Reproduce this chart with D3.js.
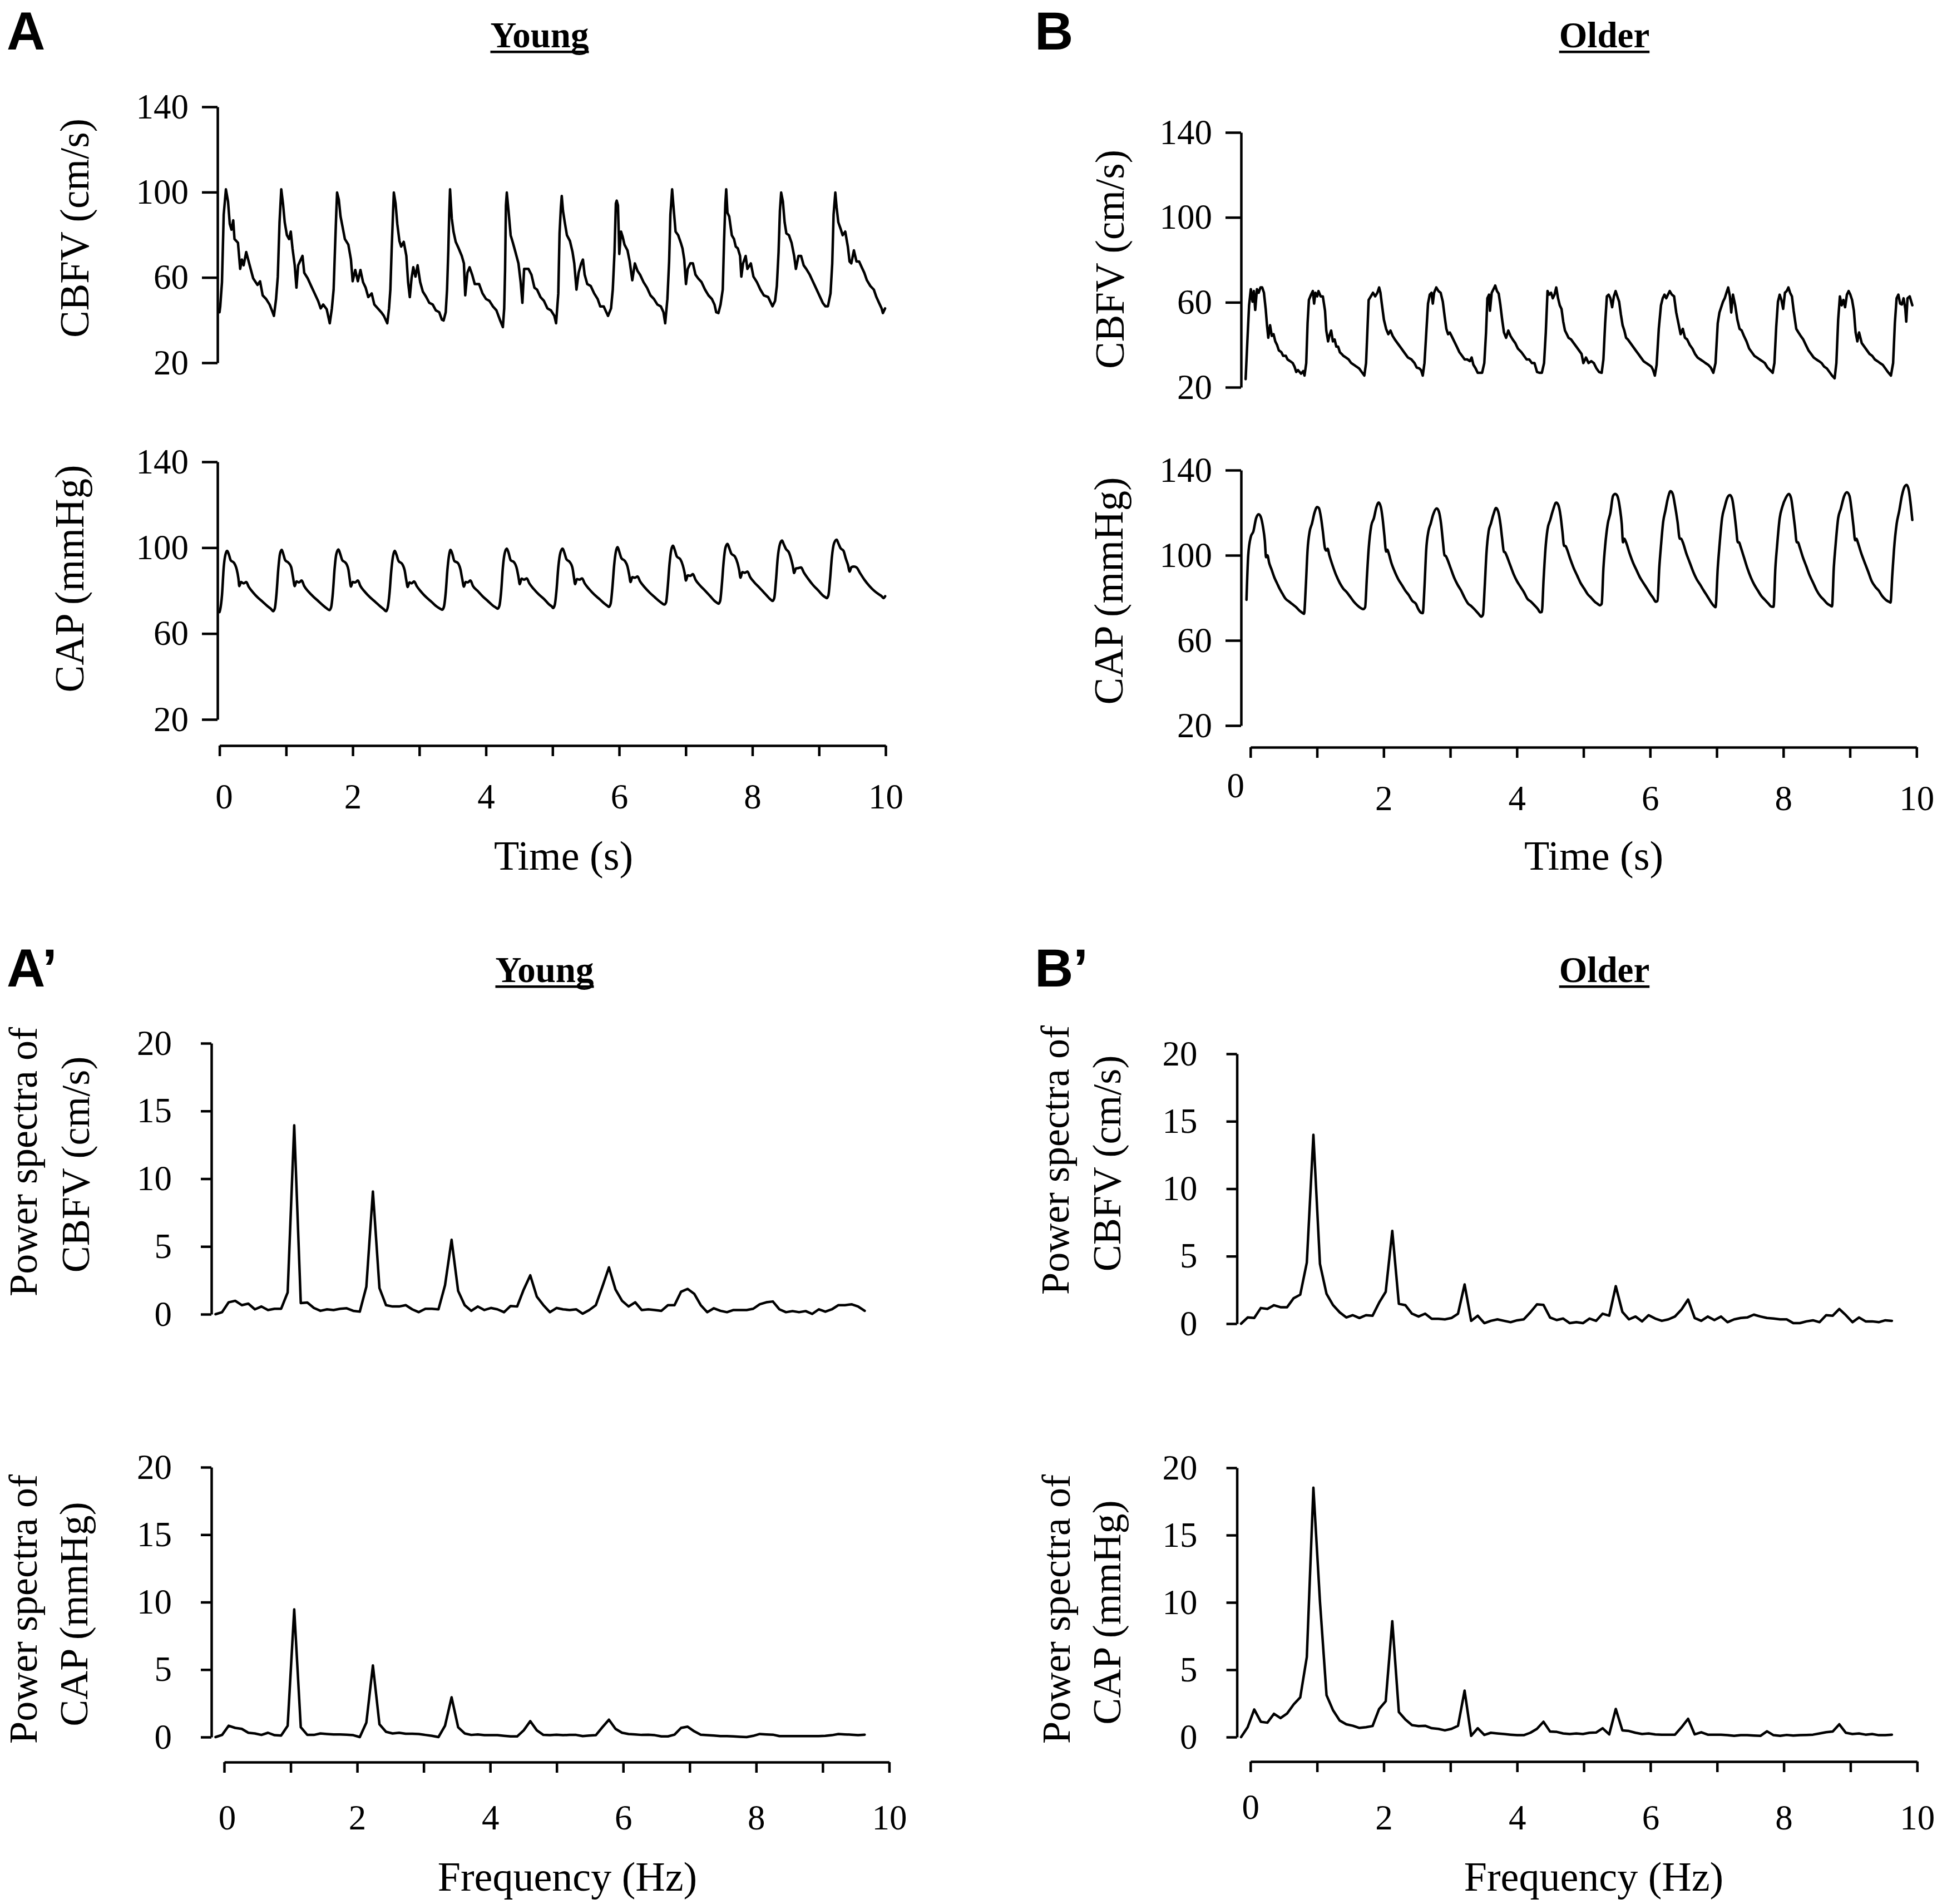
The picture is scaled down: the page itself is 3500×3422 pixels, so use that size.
<!DOCTYPE html>
<html><head><meta charset="utf-8">
<script src="https://cdn.jsdelivr.net/npm/d3@7"></script>
<style>html,body{margin:0;padding:0;background:#fff}svg{display:block}</style>
</head><body>
<svg id="c" width="3500" height="3422"></svg>
<script>
// ---------------- DATA ----------------
const timeXTicks = [0,1,2,3,4,5,6,7,8,9,10];
const timeXLabels = ["0","","2","","4","","6","","8","","10"];
const timeYTicks = [20,60,100,140];
const specYTicks = [0,5,10,15,20];
const freqXTicks = [0,1,2,3,4,5,6,7,8,9,10];
const freqXLabels = ["0","","2","","4","","6","","8","","10"];

const panelLetters = ["A","B","A\u2019","B\u2019"];
const groupTitles = ["Young","Older"];
const timeTitle = "Time (s)";
const freqTitle = "Frequency (Hz)";
const cbfvTitle = "CBFV (cm/s)";
const capTitle = "CAP (mmHg)";
const specTitle1 = "Power spectra of";

// Young CBFV (time s, cm/s)
const youngCBFV = [[0,43.7],[0.011,46.4],[0.037,57.8],[0.063,89.5],[0.096,101.3],[0.128,95.6],[0.154,85.1],[0.18,82.4],[0.206,86.8],[0.225,78],[0.277,76.3],[0.31,64],[0.336,68.4],[0.362,65.7],[0.401,71.9],[0.453,65.7],[0.505,59.6],[0.57,56.5],[0.609,58.2],[0.648,51.6],[0.7,49.9],[0.752,47.3],[0.791,44.2],[0.817,42],
[0.849,49.9],[0.875,60.4],[0.901,85.9],[0.927,101.3],[0.953,94.7],[0.979,85.9],[1.012,79.8],[1.044,78],[1.07,81.5],[1.096,73.6],[1.129,65.7],[1.155,55.2],[1.181,65.7],[1.22,68.4],[1.246,70.1],[1.272,62.2],[1.324,59.6],[1.376,56],[1.428,52.5],[1.48,49],[1.519,45.5],[1.557,47.3],[1.609,45.1],[1.655,38.5],
[1.687,45.5],[1.713,54.3],[1.733,72.7],[1.752,89.5],[1.765,99.8],[1.791,96.5],[1.817,88.6],[1.85,83.3],[1.882,78],[1.934,75.4],[1.973,68.4],[1.999,58.2],[2.038,63.5],[2.077,58.2],[2.116,63.5],[2.155,57.8],[2.194,55.2],[2.233,50.8],[2.285,52.5],[2.324,47.3],[2.376,45.5],[2.428,43.7],[2.467,42],[2.519,38.5],
[2.545,45.5],[2.565,54.3],[2.584,72.7],[2.604,89.5],[2.617,99.8],[2.643,94.7],[2.669,85.1],[2.701,77.1],[2.727,74.5],[2.766,76.7],[2.805,70.1],[2.831,57.8],[2.857,50.8],[2.883,59.6],[2.909,64.8],[2.942,60.4],[2.974,65.7],[3.013,57.8],[3.052,53.4],[3.104,50.8],[3.149,48.1],[3.201,47.3],[3.247,44.6],[3.299,43.7],[3.338,40.2],[3.364,39.8],
[3.396,43.7],[3.416,54.3],[3.435,72.7],[3.448,89.5],[3.461,101.3],[3.487,87.7],[3.513,81.5],[3.546,76.7],[3.591,73.6],[3.637,70.1],[3.669,66.6],[3.689,51.6],[3.721,62.2],[3.754,64.8],[3.793,61.3],[3.832,56.9],[3.897,56.9],[3.949,52.5],[4.001,49.9],[4.053,49],[4.105,46.4],[4.157,44.6],[4.209,40.2],[4.254,36.7],
[4.274,45.5],[4.287,63.1],[4.3,93.8],[4.313,99.8],[4.339,91.2],[4.371,79.8],[4.404,76.3],[4.443,71.9],[4.488,66.6],[4.521,57.8],[4.547,48.1],[4.573,64],[4.638,64],[4.683,61.3],[4.728,55.2],[4.767,54.3],[4.819,50.8],[4.871,49],[4.923,45.5],[4.975,44.6],[5.027,42],[5.053,38.5],
[5.086,52.5],[5.105,80.7],[5.125,93],[5.138,98.2],[5.157,91.2],[5.183,85.9],[5.216,79.8],[5.261,77.1],[5.3,71.9],[5.326,66.6],[5.359,54.3],[5.391,62.2],[5.43,66.6],[5.456,68.4],[5.482,61.3],[5.521,56.9],[5.573,56],[5.625,52.5],[5.677,49.9],[5.716,46.4],[5.768,46.4],[5.807,43.7],[5.833,42],
[5.878,45.5],[5.904,54.3],[5.93,71.9],[5.95,94.7],[5.963,96],[5.982,93.8],[6.002,71],[6.028,81.5],[6.054,78.9],[6.08,75.4],[6.125,72.7],[6.158,67.5],[6.197,58.7],[6.236,66.6],[6.275,63.1],[6.314,61.3],[6.366,57.8],[6.418,55.2],[6.47,51.6],[6.522,49.9],[6.574,47.3],[6.626,46.4],[6.665,43.7],[6.691,38.5],
[6.724,49.9],[6.75,67.5],[6.769,89.5],[6.795,101.3],[6.821,91.2],[6.847,81.5],[6.886,79.8],[6.925,76.3],[6.951,73.6],[6.977,68.4],[7.003,56.9],[7.029,64],[7.068,66.6],[7.107,66.6],[7.146,61.3],[7.185,59.6],[7.237,57.8],[7.289,54.3],[7.341,51.6],[7.392,49.9],[7.431,47.3],[7.457,43.7],[7.49,43.3],
[7.522,47.3],[7.555,54.3],[7.574,76.3],[7.594,94.7],[7.607,101.3],[7.626,90.3],[7.652,88.6],[7.691,79.8],[7.724,78],[7.75,74.5],[7.782,73.6],[7.815,70.1],[7.834,60.4],[7.86,66.6],[7.899,70.1],[7.925,64],[7.977,66.6],[8.016,60.4],[8.068,57.8],[8.12,54.3],[8.172,51.6],[8.237,50.8],[8.302,46.5],
[8.341,49],[8.367,56],[8.393,71.9],[8.413,91.2],[8.432,99.8],[8.458,95.6],[8.484,85.9],[8.51,80.7],[8.549,79.8],[8.588,76.3],[8.627,70.1],[8.653,64],[8.692,70.1],[8.731,70.1],[8.77,65.7],[8.809,64],[8.861,61.3],[8.913,57.8],[8.965,54.3],[9.017,50.8],[9.056,48.1],[9.095,46.5],[9.134,46.5],
[9.173,52.5],[9.199,66.6],[9.219,89.5],[9.245,99.8],[9.264,93],[9.29,85.9],[9.329,82.4],[9.355,79.8],[9.394,81.5],[9.433,74.5],[9.459,67.5],[9.485,66.6],[9.524,72.7],[9.563,67.5],[9.602,67.5],[9.641,64.8],[9.68,62.2],[9.719,58.7],[9.771,56],[9.823,54.3],[9.862,50.8],[9.901,48.1],[9.94,45.5],[9.959,43.3],[9.992,45.5]];

// Young CAP (time s, mmHg)
const youngCAP = [[0,70],[0.011,71.3],[0.037,77.8],[0.063,90.8],[0.089,96.8],[0.115,98.5],[0.141,96.8],[0.167,94.2],[0.219,92.9],[0.258,89.9],[0.284,85.6],[0.297,82.1],[0.323,84],[0.362,83.4],[0.401,84],[0.44,81.7],[0.505,79.1],[0.57,76.9],[0.648,74.8],[0.726,72.6],[0.778,71.3],[0.804,70.4],
[0.83,71.7],[0.856,78.7],[0.882,89.9],[0.908,97.2],[0.934,99],[0.96,96.8],[0.986,94.2],[1.038,92.9],[1.077,90.8],[1.103,86.4],[1.129,82.1],[1.155,84.3],[1.194,83.8],[1.233,84.7],[1.272,82.1],[1.337,79.5],[1.402,77.4],[1.48,75.2],[1.558,73],[1.61,71.7],[1.649,70.9],
[1.675,72.2],[1.701,78.7],[1.727,89.9],[1.752,96.8],[1.785,99.2],[1.811,97.2],[1.843,94.2],[1.895,92.9],[1.934,89.9],[1.954,85.6],[1.973,81.9],[1.999,84],[2.038,83.8],[2.077,84.7],[2.116,82.1],[2.181,79.5],[2.259,76.9],[2.337,74.8],[2.415,72.6],[2.467,71.3],[2.5,70.4],
[2.526,72.2],[2.552,78.7],[2.578,89],[2.604,95.9],[2.63,98.5],[2.656,96.8],[2.688,93.8],[2.74,92.5],[2.779,89.5],[2.805,84.7],[2.825,81.7],[2.851,83.8],[2.883,83.4],[2.922,84.3],[2.961,82.1],[3.026,79.5],[3.104,76.9],[3.182,74.8],[3.26,72.6],[3.312,71.6],[3.344,71.1],
[3.37,72.6],[3.396,79.1],[3.422,89.9],[3.448,96.8],[3.468,99],[3.494,97.2],[3.526,93.8],[3.578,92.9],[3.617,89.9],[3.643,85.6],[3.669,81.9],[3.695,84],[3.728,83.8],[3.767,84.7],[3.806,82.1],[3.871,80],[3.949,77.4],[4.027,75.2],[4.105,73],[4.144,72.2],[4.176,71.6],
[4.202,73],[4.228,79.5],[4.254,90.8],[4.28,97.2],[4.313,99.6],[4.339,97.7],[4.371,94.2],[4.423,93.2],[4.462,90.4],[4.488,86.4],[4.508,83],[4.534,85.6],[4.573,85.1],[4.612,85.7],[4.651,83.4],[4.716,80.8],[4.794,78.2],[4.872,76.1],[4.95,73.5],[4.989,72.6],[5.008,71.9],
[5.034,73.5],[5.06,80.4],[5.086,90.8],[5.118,97.7],[5.151,99.6],[5.177,97.7],[5.209,94.6],[5.261,93.2],[5.3,90.4],[5.32,86.4],[5.339,83],[5.365,85.4],[5.404,85.1],[5.443,85.7],[5.482,83.4],[5.547,80.8],[5.625,78.2],[5.703,76.1],[5.781,73.9],[5.82,73],[5.846,72.4],
[5.872,73.9],[5.898,81.3],[5.924,91.6],[5.95,98.1],[5.976,100.3],[6.002,98.1],[6.034,95.1],[6.086,93.8],[6.125,91.2],[6.151,87.3],[6.171,84],[6.197,86.3],[6.236,86],[6.275,86.6],[6.314,84.3],[6.379,81.7],[6.457,79.1],[6.535,76.9],[6.613,74.8],[6.652,73.9],[6.678,73.5],
[6.704,74.5],[6.73,82.1],[6.756,92.5],[6.782,99],[6.808,100.9],[6.834,99],[6.866,95.9],[6.918,94.6],[6.957,91.6],[6.983,88.2],[7.003,84.7],[7.029,87.1],[7.068,86.9],[7.107,87.7],[7.146,85.1],[7.211,82.5],[7.289,80],[7.367,77.4],[7.431,75.2],[7.47,74.3],[7.49,73.9],
[7.516,75.2],[7.542,83],[7.568,93.3],[7.594,99.8],[7.627,101.8],[7.653,99.8],[7.685,97.2],[7.737,95.9],[7.776,92.9],[7.802,89.5],[7.822,86],[7.848,88.6],[7.887,88.3],[7.926,88.9],[7.965,86.4],[8.03,83.8],[8.108,81.3],[8.186,78.7],[8.251,76.5],[8.283,75.6],[8.302,75.2],
[8.328,76.5],[8.354,84.7],[8.38,95.1],[8.413,101.6],[8.445,103.3],[8.471,101.6],[8.504,99.4],[8.549,97.7],[8.582,94.6],[8.608,91.2],[8.627,88.2],[8.653,90.3],[8.692,90.5],[8.731,90.8],[8.77,88.6],[8.835,85.6],[8.913,82.5],[8.991,80],[9.056,77.8],[9.095,76.9],[9.115,76.5],
[9.141,77.8],[9.167,85.6],[9.193,95.5],[9.226,102],[9.265,103.7],[9.291,102],[9.323,99.8],[9.369,98.5],[9.401,95.1],[9.434,92.1],[9.46,88.9],[9.486,90.9],[9.525,91.2],[9.564,90.8],[9.616,88.2],[9.681,85.1],[9.759,82.1],[9.837,79.7],[9.902,78.2],[9.941,77.4],[9.967,76.5],[9.993,77.4]];

// Older CBFV (time s, cm/s)
const olderCBFV = [[-0.072,23.8],[-0.046,41.6],[-0.02,58.6],[0.006,66.2],[0.032,60.3],[0.052,65.3],[0.072,56.4],[0.098,66.2],[0.124,64.5],[0.151,67],[0.177,67],[0.203,64.5],[0.229,56.9],[0.249,49.2],[0.268,43.3],[0.295,49.2],[0.321,44.2],[0.347,45],[0.373,41.6],[0.4,39.9],[0.426,37.4],[0.465,36.5],[0.491,34.8],[0.531,34.8],[0.557,33.1],[0.596,32.3],[0.635,31.4],[0.662,29.7],[0.688,27.2],[0.714,28.1],[0.76,26.4],[0.793,27.6],[0.812,25.5],
[0.838,31.4],[0.858,50.1],[0.878,61.1],[0.91,63.6],[0.937,65.3],[0.956,59.4],[0.976,64.5],[1.002,62.8],[1.022,65.3],[1.054,62.8],[1.087,62.8],[1.12,56],[1.139,46.7],[1.166,41.6],[1.185,44.2],[1.212,46.7],[1.238,41.6],[1.264,42.5],[1.29,39.1],[1.317,39.1],[1.343,36.5],[1.369,35.7],[1.395,34.8],[1.435,34],[1.474,33.1],[1.513,31.4],[1.552,30.6],[1.592,29.7],[1.631,28.9],[1.67,27.2],[1.71,25.5],
[1.736,31.4],[1.755,45.8],[1.775,61.1],[1.808,62.8],[1.84,64.5],[1.873,62.8],[1.906,64.5],[1.932,67],[1.952,64.5],[1.972,59.4],[2.004,51.8],[2.037,47.5],[2.07,45],[2.103,46.7],[2.135,44.2],[2.168,42.5],[2.207,40.8],[2.247,39.1],[2.286,37.4],[2.325,35.7],[2.365,34],[2.417,33.1],[2.463,31.4],[2.496,29.3],[2.535,28.9],[2.561,28.1],[2.587,25.5],
[2.613,31.4],[2.64,45.8],[2.666,59.4],[2.692,63.6],[2.718,64.5],[2.738,59.4],[2.757,64.5],[2.79,67],[2.823,65.3],[2.856,64.5],[2.888,60.3],[2.915,53.5],[2.941,47.5],[2.967,45],[2.993,45.8],[3.019,44.2],[3.059,41.6],[3.098,39.1],[3.137,36.5],[3.177,34.8],[3.216,33.1],[3.255,33.1],[3.294,32.3],[3.321,34],[3.347,30.6],[3.38,28.9],[3.412,26.8],[3.478,26.8],
[3.511,31.4],[3.537,45.8],[3.557,61.9],[3.583,63.6],[3.596,56],[3.622,64.5],[3.649,66.2],[3.675,67.9],[3.701,65.3],[3.727,64.1],[3.753,58.6],[3.779,51.8],[3.806,45.8],[3.838,43.3],[3.871,46.7],[3.904,44.2],[3.937,42.5],[3.976,40.8],[4.015,38.2],[4.068,36.5],[4.107,34.8],[4.146,33.1],[4.186,33.1],[4.225,31.4],[4.264,31.4],[4.303,27.2],[4.343,26.8],[4.375,26.8],
[4.408,31.4],[4.434,45.8],[4.46,65.3],[4.487,63.6],[4.513,64.5],[4.539,61.9],[4.565,63.6],[4.591,67],[4.618,61.9],[4.644,58.6],[4.67,56.9],[4.696,50.9],[4.722,46.7],[4.749,45],[4.775,43.3],[4.814,42.5],[4.853,40.8],[4.893,39.1],[4.932,37.4],[4.971,35.7],[4.998,31.4],[5.037,34],[5.076,31.4],[5.116,32.3],[5.155,31.4],[5.194,28.9],[5.233,27.2],[5.273,26.8],
[5.299,33.1],[5.325,50.1],[5.351,62.8],[5.377,63.6],[5.404,61.9],[5.43,57.7],[5.456,62.8],[5.482,65.3],[5.508,62.8],[5.535,60.3],[5.561,54.3],[5.587,49.2],[5.613,46.7],[5.639,43.3],[5.666,42.5],[5.705,40.8],[5.744,39.1],[5.783,37.4],[5.823,35.7],[5.862,34],[5.901,32.3],[5.941,31.4],[5.98,30.6],[6.019,29.7],[6.045,28.1],[6.071,25.5],
[6.098,30.6],[6.13,47.5],[6.163,58.6],[6.189,61.9],[6.216,63.6],[6.242,61.9],[6.268,63.6],[6.294,65.3],[6.327,63.6],[6.36,62.8],[6.392,55.2],[6.425,50.1],[6.458,45],[6.491,47.5],[6.523,43.3],[6.556,42.5],[6.596,39.9],[6.635,38.2],[6.674,35.7],[6.713,34],[6.753,33.1],[6.792,32.3],[6.831,31.4],[6.871,30.6],[6.91,29.3],[6.949,26.8],
[6.982,31.4],[7.015,50.1],[7.041,55.2],[7.067,57.7],[7.094,60.3],[7.12,61.9],[7.146,64.5],[7.172,67],[7.198,62.8],[7.218,55.2],[7.244,63.6],[7.277,58.6],[7.31,51.8],[7.343,47.5],[7.375,46.7],[7.408,44.2],[7.447,41.6],[7.487,38.2],[7.526,36.5],[7.565,34.8],[7.604,34],[7.644,33.1],[7.683,32.3],[7.722,31.4],[7.762,29.3],[7.801,28.1],[7.84,26.8],
[7.866,31.4],[7.893,48.4],[7.919,60.3],[7.945,63.6],[7.971,61.1],[7.997,56.9],[8.024,64.5],[8.05,65.3],[8.076,67],[8.102,64.5],[8.129,62.8],[8.155,56],[8.194,47.5],[8.227,45.8],[8.26,44.2],[8.299,42.5],[8.338,39.9],[8.377,37.4],[8.417,35.7],[8.456,34],[8.495,33.1],[8.535,32.3],[8.574,31.4],[8.613,29.7],[8.652,28.9],[8.692,27.2],[8.731,25.5],[8.77,24.2],
[8.796,31.4],[8.823,51.8],[8.849,62.8],[8.875,58.6],[8.901,61.1],[8.927,57.7],[8.954,63.6],[8.98,65.3],[9.006,63.6],[9.032,61.1],[9.059,56],[9.085,45.8],[9.111,41.6],[9.137,45.8],[9.177,40.8],[9.216,39.1],[9.255,37.4],[9.294,35.7],[9.334,34.8],[9.373,33.1],[9.412,32.3],[9.451,31.4],[9.491,30.6],[9.53,28.9],[9.569,27.2],[9.615,25.5],
[9.648,31.4],[9.674,50.1],[9.7,61.9],[9.727,63.6],[9.753,59.4],[9.779,59],[9.805,61.9],[9.831,56.9],[9.845,50.9],[9.864,61.9],[9.897,62.8],[9.936,58.6]];

// Older CAP (time s, mmHg)
const olderCAP = [[-0.059,79.1],[-0.033,100],[0.006,108.7],[0.045,111.3],[0.085,117.4],[0.124,119.3],[0.157,117.9],[0.19,113.1],[0.216,107],[0.235,99.1],[0.255,100],[0.281,96.5],[0.321,93],[0.36,89.5],[0.399,86.9],[0.438,84.3],[0.478,82.1],[0.53,79.5],[0.583,78.2],[0.635,76.9],[0.687,75.6],[0.74,73.9],[0.779,73],[0.805,72.5],
[0.831,85.2],[0.858,102.6],[0.89,111.3],[0.923,114.8],[0.962,120],[1.002,122.7],[1.028,122.2],[1.061,117.4],[1.087,111.3],[1.12,103.1],[1.139,102.2],[1.159,103.1],[1.185,100],[1.238,94.8],[1.29,90.4],[1.343,86.9],[1.395,84.3],[1.447,82.6],[1.5,80.4],[1.552,78.2],[1.604,76.5],[1.657,75.2],[1.696,74.7],[1.722,75.6],
[1.748,89.5],[1.774,102.6],[1.814,113.9],[1.853,117.4],[1.892,122.7],[1.925,124.8],[1.958,122.7],[1.984,117.4],[2.01,109.6],[2.037,101.7],[2.056,102.6],[2.076,100.9],[2.115,96.5],[2.168,92.2],[2.22,88.7],[2.272,86.1],[2.325,83.4],[2.377,81.3],[2.43,78.6],[2.482,77.3],[2.521,74.7],[2.561,73],[2.587,72.8],
[2.613,85.2],[2.639,102.6],[2.672,111.3],[2.705,114.8],[2.744,119.2],[2.796,122],[2.829,120.5],[2.862,114.8],[2.888,107],[2.914,100],[2.934,99.6],[2.954,98.3],[3.006,93.9],[3.058,89.5],[3.111,86.1],[3.163,83.4],[3.216,80],[3.268,77.3],[3.32,76],[3.373,74.3],[3.425,72.5],[3.465,71.2],[3.491,72.1],
[3.517,85.2],[3.543,100.9],[3.576,111.3],[3.609,114.8],[3.648,119.2],[3.687,122.2],[3.72,120.5],[3.753,114.8],[3.779,107.8],[3.805,101.7],[3.825,101.3],[3.844,100],[3.897,95.6],[3.949,91.3],[4.002,87.8],[4.054,85.2],[4.107,82.6],[4.159,79.5],[4.211,78.2],[4.264,76.5],[4.316,74.7],[4.349,73.2],[4.375,73.4],
[4.401,88.7],[4.428,102.6],[4.46,112.2],[4.5,116.6],[4.539,120.9],[4.591,124.8],[4.624,123.5],[4.657,118.3],[4.683,111.3],[4.709,104.4],[4.729,104.4],[4.749,103.1],[4.801,98.3],[4.854,93.9],[4.906,90.4],[4.958,86.9],[5.011,84.3],[5.063,81.7],[5.116,80],[5.168,78.2],[5.207,77.3],[5.247,76.5],[5.273,77.2],
[5.299,93.9],[5.325,104.4],[5.364,114.8],[5.404,120],[5.443,127.9],[5.476,128.8],[5.508,127.9],[5.548,121.8],[5.574,114.8],[5.593,106.1],[5.613,107.8],[5.639,106.1],[5.692,100.9],[5.744,96.5],[5.796,93],[5.849,89.5],[5.901,86.9],[5.954,84.3],[6.006,81.7],[6.045,80],[6.085,78.2],[6.111,78.6],
[6.137,93.9],[6.163,104.4],[6.196,115.7],[6.229,120.9],[6.268,127],[6.307,130.1],[6.34,128.8],[6.373,123.5],[6.412,115.7],[6.445,107.8],[6.465,107.8],[6.491,106.1],[6.543,100.9],[6.596,96.5],[6.648,92.2],[6.7,88.7],[6.753,86.1],[6.805,83.4],[6.858,80.8],[6.91,78.2],[6.949,76.5],[6.982,75.6],
[7.015,93.9],[7.041,104.4],[7.08,117.4],[7.119,122.7],[7.159,127],[7.198,128.3],[7.231,126.6],[7.264,120],[7.29,113.1],[7.316,106.1],[7.336,106.1],[7.355,104.4],[7.408,99.1],[7.46,93.9],[7.513,89.5],[7.565,86.1],[7.618,83.4],[7.67,80.8],[7.722,79.1],[7.775,77.3],[7.814,76],[7.853,75.8],
[7.88,93.9],[7.906,104.4],[7.945,117.4],[7.984,122.7],[8.037,127],[8.083,128.8],[8.115,127],[8.148,120],[8.175,113.1],[8.201,106.1],[8.221,106.1],[8.24,104.4],[8.293,99.1],[8.345,94.8],[8.397,90.4],[8.45,86.9],[8.502,83.4],[8.555,80.8],[8.607,79.1],[8.659,77.3],[8.699,76.5],[8.731,76],
[8.757,93.9],[8.783,104.4],[8.823,117.4],[8.862,121.8],[8.914,127.9],[8.954,129.6],[8.993,127.9],[9.026,120.9],[9.052,113.9],[9.078,107],[9.098,107.8],[9.118,106.1],[9.17,100.9],[9.222,96.5],[9.275,92.2],[9.327,87.8],[9.38,85.2],[9.432,83.4],[9.485,80.8],[9.537,79.1],[9.583,78.2],[9.609,77.8],
[9.635,90.4],[9.661,102.6],[9.701,114.8],[9.74,120.9],[9.779,127.9],[9.819,132.2],[9.851,133.1],[9.884,130.5],[9.91,124.4],[9.936,116.6]];

// Power spectra, one value per frequency bin
const youngFreqStart = -0.13, olderFreqStart = -0.14, freqStep = 0.0986;
const youngCBFVSpec = [0.0,0.15,0.88,0.99,0.67,0.78,0.36,0.57,0.31,0.40,
 0.40,1.61,13.94,0.82,0.86,0.46,0.25,0.36,0.31,0.40,
 0.44,0.25,0.19,2.03,9.06,1.93,0.67,0.57,0.57,0.67,
 0.36,0.15,0.40,0.40,0.36,2.14,5.49,1.72,0.67,0.25,
 0.57,0.31,0.46,0.36,0.15,0.61,0.57,1.82,2.87,1.30,
 0.67,0.15,0.46,0.36,0.31,0.36,0.04,0.31,0.67,2.03,
 3.46,1.82,0.99,0.57,0.88,0.31,0.36,0.31,0.25,0.67,
 0.67,1.66,1.87,1.51,0.67,0.15,0.44,0.25,0.15,0.31,
 0.31,0.31,0.40,0.73,0.88,0.94,0.36,0.15,0.23,0.15,
 0.23,0.02,0.36,0.19,0.36,0.67,0.67,0.73,0.57,0.25];
const youngCAPSpec = [0,0.16,0.84,0.68,0.61,0.32,0.27,0.16,0.32,0.14,
 0.11,0.84,9.46,0.73,0.16,0.16,0.27,0.23,0.20,0.20,
 0.18,0.14,0.0,1.07,5.31,0.95,0.39,0.27,0.32,0.25,
 0.25,0.23,0.16,0.09,0.0,0.84,2.95,0.73,0.27,0.16,
 0.20,0.14,0.14,0.14,0.09,0.05,0.05,0.50,1.18,0.50,
 0.16,0.14,0.18,0.14,0.16,0.16,0.07,0.11,0.14,0.73,
 1.29,0.61,0.32,0.23,0.20,0.16,0.18,0.14,0.05,0.05,
 0.18,0.68,0.77,0.43,0.18,0.14,0.11,0.07,0.07,0.05,
 0.02,0.0,0.09,0.23,0.20,0.18,0.07,0.07,0.07,0.07,
 0.07,0.07,0.07,0.09,0.14,0.23,0.20,0.18,0.14,0.18];
const olderCBFVSpec = [0.0,0.46,0.42,1.16,1.09,1.37,1.22,1.22,1.89,2.15,
 4.53,14.0,4.42,2.21,1.37,0.84,0.46,0.63,0.42,0.63,
 0.59,1.56,2.36,6.88,1.47,1.37,0.74,0.53,0.74,0.36,
 0.36,0.32,0.42,0.74,2.91,0.21,0.59,0.04,0.21,0.32,
 0.21,0.11,0.25,0.32,0.84,1.43,1.39,0.46,0.27,0.38,
 0.04,0.11,0.04,0.38,0.21,0.74,0.59,2.78,0.88,0.32,
 0.53,0.17,0.63,0.38,0.21,0.32,0.53,1.05,1.79,0.42,
 0.21,0.53,0.27,0.53,0.11,0.32,0.42,0.46,0.67,0.53,
 0.42,0.38,0.32,0.32,0.04,0.04,0.17,0.25,0.11,0.63,
 0.59,1.09,0.63,0.11,0.46,0.17,0.17,0.11,0.25,0.21];
const olderCAPSpec = [0,0.73,2.05,1.14,1.07,1.73,1.41,1.75,2.43,2.95,
 5.95,18.52,10.05,3.11,1.98,1.23,0.95,0.84,0.68,0.73,
 0.82,2.09,2.66,8.61,1.86,1.30,0.89,0.82,0.84,0.66,
 0.61,0.50,0.61,0.84,3.45,0.09,0.66,0.16,0.32,0.27,
 0.23,0.18,0.14,0.14,0.32,0.61,1.14,0.41,0.39,0.27,
 0.23,0.27,0.23,0.32,0.34,0.66,0.20,2.09,0.50,0.45,
 0.32,0.23,0.27,0.20,0.18,0.18,0.18,0.73,1.36,0.20,
 0.36,0.18,0.18,0.18,0.14,0.09,0.14,0.14,0.11,0.09,
 0.43,0.14,0.09,0.16,0.11,0.14,0.16,0.18,0.27,0.36,
 0.41,0.95,0.32,0.23,0.27,0.18,0.23,0.14,0.14,0.18];

// ---------------- DRAWING ----------------
const SERIF = "'Liberation Serif','Times New Roman',Times,serif";
const SANS = "'Liberation Sans',Arial,Helvetica,sans-serif";
const LW = 4.5;
const svg = d3.select("#c");
svg.append("rect").attr("width",3500).attr("height",3422).attr("fill","#fff");

function styleAxis(g, fs){
  g.attr("font-family", SERIF).attr("font-size", fs);
  g.select(".domain").attr("stroke","#000").attr("stroke-width",LW);
  g.selectAll(".tick line").attr("stroke","#000").attr("stroke-width",LW);
  g.selectAll(".tick text").attr("fill","#000");
}

function yAxis(x0, scale, ticks, size, pad){
  const g = svg.append("g").attr("transform",`translate(${x0},0)`)
    .call(d3.axisLeft(scale).tickValues(ticks).tickSize(size).tickSizeOuter(0).tickPadding(pad).tickFormat(d3.format("d")));
  styleAxis(g, 63);
  return g;
}

function xAxis(y0, scale, ticks, labels, labelY, zeroShift){
  const g = svg.append("g").attr("transform",`translate(0,${y0})`)
    .call(d3.axisBottom(scale).tickValues(ticks).tickSize(19).tickSizeOuter(0).tickFormat((d,i)=>labels[i]));
  styleAxis(g, 63);
  g.selectAll(".tick text").attr("y", labelY).attr("dy", 0);
  g.selectAll(".tick").filter(d=>d===0).select("text")
    .attr("dx", zeroShift[0]).attr("y", labelY + zeroShift[1]);
  return g;
}

function trace(data, x, y, curve){
  svg.append("path").datum(data)
    .attr("fill","none").attr("stroke","#000").attr("stroke-width",LW)
    .attr("stroke-linejoin","round").attr("stroke-linecap","round")
    .attr("d", d3.line().x(d=>x(d[0])).y(d=>y(d[1])).curve(curve));
}

function specTrace(values, start, x, y){
  const pts = values.map((v,i)=>[start + i*freqStep, v]);
  trace(pts, x, y, d3.curveLinear);
}

function vTitle(lines, xs, cy, fs){
  lines.forEach((s,i)=>{
    svg.append("text").attr("transform",`translate(${xs[i]},${cy[i]}) rotate(-90)`)
      .attr("text-anchor","middle").attr("dy","0.34em")
      .attr("font-family",SERIF).attr("font-size",fs).attr("fill","#000").text(s);
  });
}

function hText(s, cx, by, fs){
  svg.append("text").attr("x",cx).attr("y",by).attr("text-anchor","middle")
    .attr("font-family",SERIF).attr("font-size",fs).attr("fill","#000").text(s);
}

function groupTitle(s, cx, by){
  const t = svg.append("text").attr("x",cx).attr("y",by).attr("text-anchor","middle")
    .attr("font-family",SERIF).attr("font-weight","bold").attr("font-size",65).attr("fill","#000").text(s);
  const w = t.node().getComputedTextLength();
  svg.append("rect").attr("x",cx-w/2).attr("y",by+6).attr("width",w).attr("height",4.5).attr("fill","#000");
}

function letter(s, x, by){
  svg.append("text").attr("x",x).attr("y",by).attr("font-family",SANS).attr("font-weight","bold")
    .attr("font-size",96).attr("fill","#000").text(s);
}

// Panel layouts (pixel geometry)
const timePanels = [
  {yAxisX:391, xRange:[394.6,1592], cbfvY:[652,192], capY:[1293,830], xAxisY:1340, labelY:113, zero:[8,0],
   cbfv:youngCBFV, cap:youngCAP, titleX:[134,125], titleY:[410,1040], xTitleX:1013},
  {yAxisX:2231, xRange:[2247.8,3445.3], cbfvY:[696,238], capY:[1304,845], xAxisY:1343, labelY:113, zero:[-27,-23],
   cbfv:olderCBFV, cap:olderCAP, titleX:[1995,1993], titleY:[466,1062], xTitleX:2865}
];
const specPanels = [
  {yAxisX:380, xRange:[403,1598.4], cbfvY:[2362,1875], capY:[3122,2637], xAxisY:3167, labelY:121, zero:[5,0],
   cbfv:youngCBFVSpec, cap:youngCAPSpec, start:youngFreqStart, t1:[42,136], t2:[42,133], c1:[2088,2093], c2:[2892,2901], xTitleX:1020},
  {yAxisX:2223.6, xRange:[2247.8,3446.3], cbfvY:[2379,1894], capY:[3122,2638], xAxisY:3166, labelY:122, zero:[0,-19],
   cbfv:olderCBFVSpec, cap:olderCAPSpec, start:olderFreqStart, t1:[1897,1990], t2:[1899,1990], c1:[2085,2091], c2:[2892,2898], xTitleX:2865}
];

timePanels.forEach((p,k)=>{
  const x = d3.scaleLinear().domain([0,10]).range(p.xRange);
  const y1 = d3.scaleLinear().domain([20,140]).range(p.cbfvY);
  const y2 = d3.scaleLinear().domain([20,140]).range(p.capY);
  yAxis(p.yAxisX, y1, timeYTicks, 28, 24);
  yAxis(p.yAxisX, y2, timeYTicks, 28, 24);
  xAxis(p.xAxisY, x, timeXTicks, timeXLabels, p.labelY, p.zero);
  trace(p.cbfv, x, y1, d3.curveLinear);
  trace(p.cap, x, y2, d3.curveMonotoneX);
  vTitle([cbfvTitle], [p.titleX[0]], [p.titleY[0]], 73);
  vTitle([capTitle], [p.titleX[1]], [p.titleY[1]], 73);
  hText(timeTitle, p.xTitleX, 1563, 74);
});

specPanels.forEach((p,k)=>{
  const x = d3.scaleLinear().domain([0,10]).range(p.xRange);
  const y1 = d3.scaleLinear().domain([0,20]).range(p.cbfvY);
  const y2 = d3.scaleLinear().domain([0,20]).range(p.capY);
  yAxis(p.yAxisX, y1, specYTicks, 19, 52);
  yAxis(p.yAxisX, y2, specYTicks, 19, 52);
  xAxis(p.xAxisY, x, freqXTicks, freqXLabels, p.labelY, p.zero);
  specTrace(p.cbfv, p.start, x, y1);
  specTrace(p.cap, p.start, x, y2);
  vTitle([specTitle1, cbfvTitle], p.t1, p.c1, 72);
  vTitle([specTitle1, capTitle], p.t2, p.c2, 72);
  hText(freqTitle, p.xTitleX, 3398, 74);
});

groupTitle(groupTitles[0], 970, 85);
groupTitle(groupTitles[1], 2884, 85);
groupTitle(groupTitles[0], 979, 1765);
groupTitle(groupTitles[1], 2884, 1765);

letter(panelLetters[0], 12, 89);
letter(panelLetters[1], 1860, 89);
letter(panelLetters[2], 12, 1773);
letter(panelLetters[3], 1860, 1773);
</script>
</body></html>
